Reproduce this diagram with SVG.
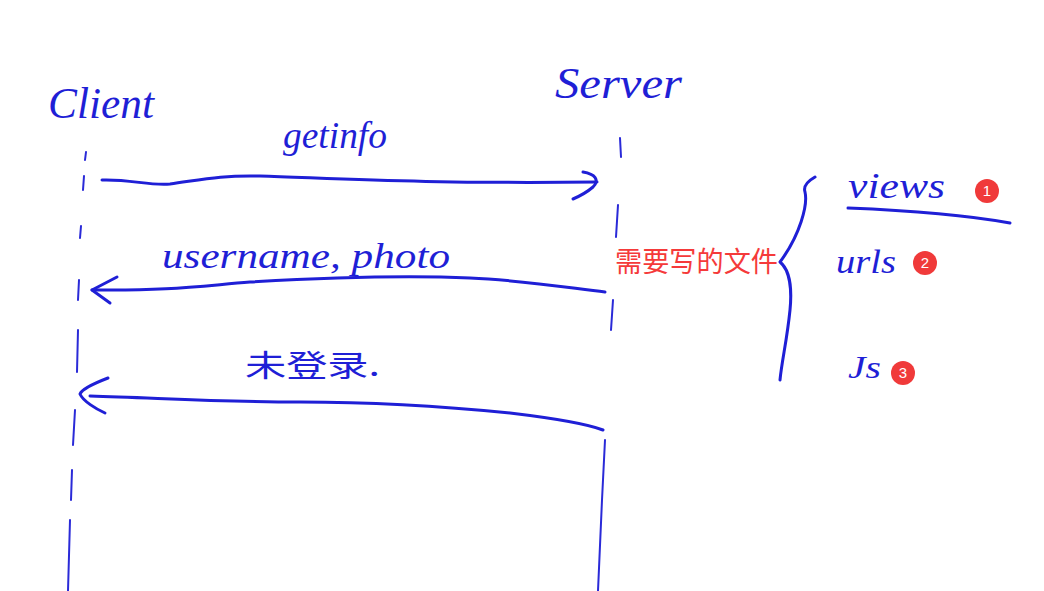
<svg xmlns="http://www.w3.org/2000/svg" width="1044" height="591" viewBox="0 0 1044 591">
<style>
.ink{fill:none;stroke:#1f1fd6;stroke-width:3;stroke-linecap:round;stroke-linejoin:round}
.thin{fill:none;stroke:#2a2ad8;stroke-width:2;stroke-linecap:round}
.hw{font-family:"Liberation Serif","Noto Sans CJK SC",serif;font-style:italic;fill:#1f1fd6}
.cjk{font-family:"Noto Sans CJK SC",sans-serif;fill:#1f1fd6}
.red{font-family:"Noto Sans CJK SC",sans-serif;fill:#f53a3a}
.badge circle{fill:#f03a3a}
.badge text{font-family:"Liberation Sans",sans-serif;font-size:15px;fill:#fff;text-anchor:middle}
</style>
<rect width="1044" height="591" fill="#fff"/>
<g id="client">
<text class="hw" x="48" y="118" font-size="44" textLength="106" lengthAdjust="spacingAndGlyphs">Client</text>
<path class="thin" d="M86 152L85 160M84 176L83 190M81 226L80 238M79 280L78 300M78 330L77 372M75 410L73 445M72 470L71 500M70 520L68 591"/>
</g>
<g id="server">
<text class="hw" x="555" y="98" font-size="44" textLength="127" lengthAdjust="spacingAndGlyphs">Server</text>
<path class="thin" d="M620 138L621 157M618 205L616 237M613 300L611 330M605 440L602 500L598 591"/>
</g>
<g id="connectors">
<path class="ink" d="M102 180C130 179 150 186 170 184C200 180 220 175 260 176C330 178 420 184 597 182"/>
<path class="ink" d="M583 172C595 174 600 180 593 187C586 193 580 196 573 199"/>
<path class="ink" d="M605 292C570 288 520 280 470 278C400 275 320 278 250 282C200 286 170 291 92 290"/>
<path class="ink" d="M117 277L92 290L110 303"/>
<path class="ink" d="M603 430C590 425 560 419 510 413C440 406 360 402 300 402C220 402 160 398 90 396"/>
<path class="ink" d="M108 378C95 383 82 389 80 394C83 401 96 409 105 413"/>
</g>
<g id="label-getinfo"><text class="hw" x="283" y="148" font-size="38" textLength="104" lengthAdjust="spacingAndGlyphs">getinfo</text></g>
<g id="label-username"><text class="hw" x="162" y="268" font-size="36" textLength="288" lengthAdjust="spacingAndGlyphs">username, photo</text></g>
<g id="label-unlogged"><text class="cjk" x="245" y="376" font-size="30" textLength="135" lengthAdjust="spacingAndGlyphs">未登录.</text></g>
<g id="files-label"><text class="red" x="615" y="272" font-size="28" textLength="163" lengthAdjust="spacingAndGlyphs">需要写的文件</text></g>
<g id="bracket"><path class="ink" d="M815 177C808 181 803 186 805 192C808 205 800 235 780 262C790 270 792 290 790 310C787 340 782 360 780 380" stroke-width="2.5"/></g>
<g id="views">
<text class="hw" x="848" y="198" font-size="36" textLength="97" lengthAdjust="spacingAndGlyphs">views</text>
<path class="ink" d="M848 208C900 210 960 214 1010 223"/>
<g class="badge"><circle cx="987" cy="191" r="12"/><text x="987" y="196">1</text></g>
</g>
<g id="urls">
<text class="hw" x="836" y="273" font-size="34" textLength="60" lengthAdjust="spacingAndGlyphs">urls</text>
<g class="badge"><circle cx="925" cy="263" r="12"/><text x="925" y="268">2</text></g>
</g>
<g id="js">
<text class="hw" x="848" y="378" font-size="32" textLength="33" lengthAdjust="spacingAndGlyphs">Js</text>
<g class="badge"><circle cx="903" cy="373" r="12"/><text x="903" y="378">3</text></g>
</g>
</svg>
